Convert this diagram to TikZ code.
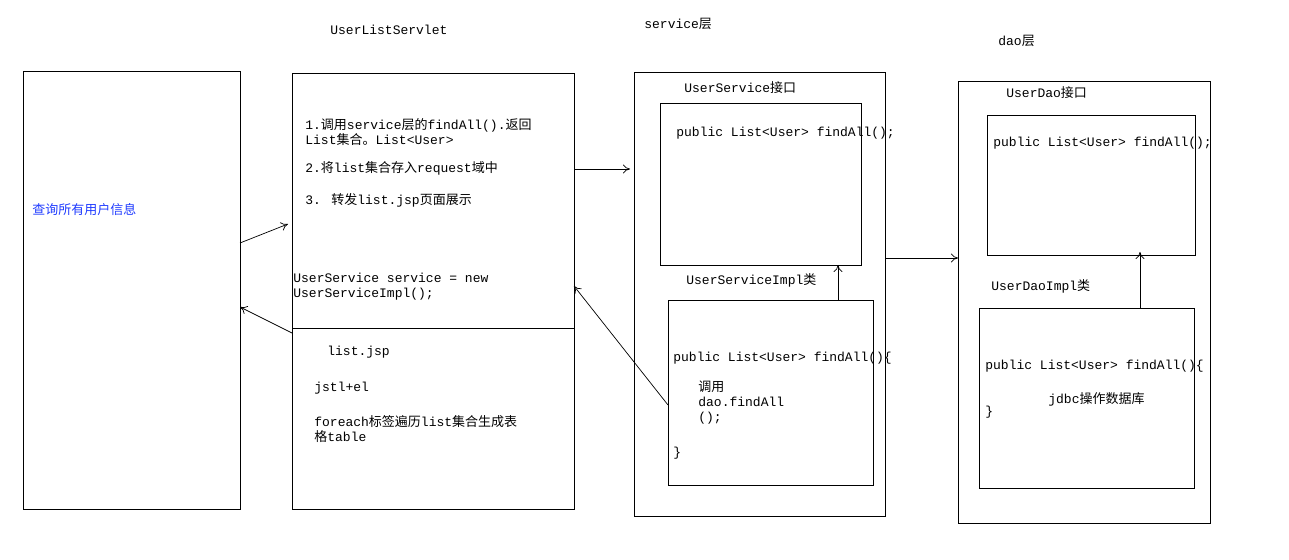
\documentclass[tikz,border=0pt]{standalone}
\usepackage{fontspec}
\setmainfont{Liberation Mono}
\newfontfamily\cjk{Noto Sans CJK SC}
\newcommand{\zh}[1]{{\cjk #1}}
\usetikzlibrary{arrows.meta, positioning}
\definecolor{LinkBlue}{HTML}{1F3BFF}

\begin{document}
\begin{tikzpicture}[x=0.02cm, y=-0.02cm,
    box/.style={draw, line width=0.5pt},
    txt/.style={anchor=north west, inner sep=0pt, align=left,
                font=\fontsize{7.4}{8.4}\selectfont},
    call/.style={-{To[length=4pt,width=5pt]}, line width=0.4pt}]
    \useasboundingbox (0,0) rectangle (1289,560);

    % Page box
    \draw[box] (23,71) rectangle (240,509);
    \node[txt, text=LinkBlue] (page) at (32,203) {\zh{查询所有用户信息}};

    % Servlet
    \node[txt] (servletTitle) at (330,25) {UserListServlet};
    \draw[box] (292,73) rectangle (574,509);
    \draw[box] (292,328) -- (574,328);
    \node[txt] (step1) at (305,118) {1.\zh{调用}service\zh{层的}findAll().\zh{返回}\\List\zh{集合。}List<User>};
    \node[txt] (step2) at (305,161) {2.\zh{将}list\zh{集合存入}request\zh{域中}};
    \node[txt] (step3) at (305,193) {3.  \zh{转发}list.jsp\zh{页面展示}};
    \node[txt] (svcNew) at (293,273) {UserService service = new\\UserServiceImpl();};
    \node[txt] (jsp) at (327,346) {list.jsp};
    \node[txt] (jstl) at (314,382) {jstl+el};
    \node[txt] (loop) at (314,415) {foreach\zh{标签遍历}list\zh{集合生成表}\\\zh{格}table};

    % Service layer
    \node[txt] (svcTitle) at (644,18) {service\zh{层}};
    \draw[box] (634,72) rectangle (885,516);
    \node[txt] (svcIf) at (684,81) {UserService\zh{接口}};
    \draw[box] (660,103) rectangle (861,265);
    \node[txt] (svcSig) at (676,127) {public List<User> findAll();};
    \node[txt] (svcImpl) at (686,273) {UserServiceImpl\zh{类}};
    \draw[box] (668,300) rectangle (873,485);
    \node[txt] (svcBody) at (673,352) {public List<User> findAll()\{};
    \node[txt] (svcCall) at (698,381) {\zh{调用}\\dao.findAll\\();};
    \node[txt] (svcEnd) at (673,447) {\}};

    % Dao layer
    \node[txt] (daoTitle) at (998,35) {dao\zh{层}};
    \draw[box] (958,81) rectangle (1210,523);
    \node[txt] (daoIf) at (1006,86) {UserDao\zh{接口}};
    \draw[box] (987,115) rectangle (1195,255);
    \node[txt] (daoSig) at (993,137) {public List<User> findAll();};
    \node[txt] (daoImpl) at (991,279) {UserDaoImpl\zh{类}};
    \draw[box] (979,308) rectangle (1194,488);
    \node[txt] (daoBody) at (985,360) {public List<User> findAll()\{};
    \node[txt] (daoJdbc) at (1048,392) {jdbc\zh{操作数据库}};
    \node[txt] (daoEnd) at (985,406) {\}};

    % Connectors
    \coordinate (pageOut) at (240,243);
    \coordinate (servletIn) at (288,224);
    \coordinate (servletOut) at (574,169);
    \coordinate (serviceIn) at (630,169);
    \coordinate (servletBack) at (292,333);
    \coordinate (pageIn) at (240,307);
    \coordinate (implCall) at (668,405);
    \coordinate (servletRet) at (574,286);
    \coordinate (implTop) at (838,300);
    \coordinate (ifBottom) at (838,265);
    \coordinate (serviceOut) at (885,258);
    \coordinate (daoIn) at (958,258);
    \coordinate (daoImplTop) at (1140,308);
    \coordinate (daoIfBottom) at (1140,252);
    \draw[call] (pageOut) -- (servletIn);
    \draw[call] (servletOut) -- (serviceIn);
    \draw[call] (servletBack) -- (pageIn);
    \draw[call] (implCall) -- (servletRet);
    \draw[call] (implTop) -- (ifBottom);
    \draw[call] (serviceOut) -- (daoIn);
    \draw[call] (daoImplTop) -- (daoIfBottom);
\end{tikzpicture}
\end{document}
